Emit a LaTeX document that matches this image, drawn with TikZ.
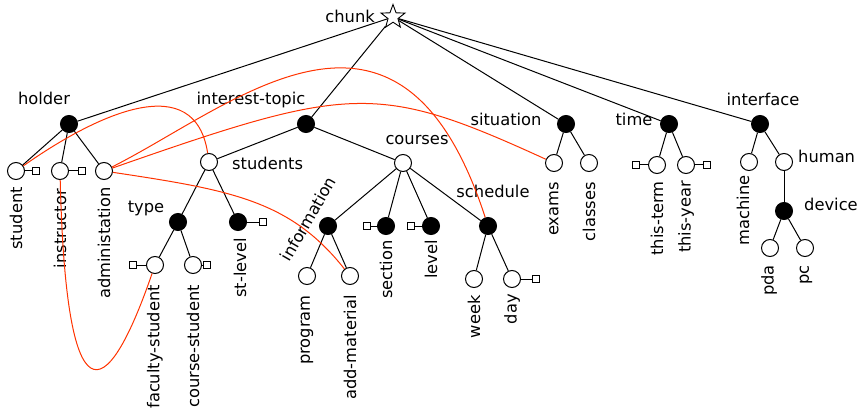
\documentclass[tikz,border=0pt]{standalone}
\usepackage{fontspec}
\setmainfont{DejaVu Sans}
\usepackage{tikz}
\usetikzlibrary{shapes.geometric}
\definecolor{linkred}{RGB}{255,51,0}

\begin{document}
\begin{tikzpicture}[x=1pt, y=-1pt,
  every node/.style={font=\fontsize{16.3}{19}\selectfont},
  open/.style={circle, draw, fill=white, minimum size=17pt, inner sep=0pt, line width=1pt},
  full/.style={circle, draw, fill=black, minimum size=17pt, inner sep=0pt, line width=1pt},
  attr/.style={rectangle, draw, fill=white, minimum size=7.5pt, inner sep=0pt, line width=0.9pt},
  lab/.style={inner sep=0pt, anchor=base},
  vlab/.style={inner sep=0pt, rotate=90, anchor=east},
  branch/.style={line width=1pt},
  link/.style={draw=linkred, line width=1pt}]
  \useasboundingbox (0,0) rectangle (861,414);

  % root
  \node[star, star points=5, star point ratio=2.4, draw, fill=white,
        minimum size=25pt, inner sep=0pt, line width=0.9pt] (chunk) at (393,17) {};
  \node[lab, anchor=base east] (chunk-lbl) at (375,23) {chunk};

  % holder
  \node[full] (holder) at (69,124) {};
  \node[lab] (holder-lbl) at (44,105) {holder};
  \node[open] (student) at (16,171) {};
  \node[open] (instructor) at (60,171) {};
  \node[open] (administation) at (104,171) {};
  \node[attr] (student-sq) at (36,171) {};
  \node[attr] (instructor-sq) at (82,171) {};
  \node[vlab] (student-lbl) at (16,187) {student};
  \node[vlab] (instructor-lbl) at (60,189) {instructor};
  \node[vlab] (administation-lbl) at (104,187) {administation};

  % interest-topic
  \node[full] (interest) at (306,124) {};
  \node[lab] (interest-lbl) at (251,105) {interest-topic};
  \node[open] (students) at (209,162) {};
  \node[lab, anchor=base west] (students-lbl) at (232,170) {students};
  \node[full] (type) at (178,222) {};
  \node[lab] (type-lbl) at (146,212) {type};
  \node[full] (stlevel) at (238,222) {};
  \node[attr] (stlevel-sq) at (263,222) {};
  \node[vlab] (stlevel-lbl) at (240,238) {st-level};
  \node[open] (faculty) at (155,265) {};
  \node[attr] (faculty-sq) at (133,265) {};
  \node[vlab] (faculty-lbl) at (155,285) {faculty-student};
  \node[open] (course) at (193,265) {};
  \node[attr] (course-sq) at (207,265) {};
  \node[vlab] (course-lbl) at (193,285) {course-student};

  \node[open] (courses) at (403,163) {};
  \node[lab] (courses-lbl) at (417,145) {courses};
  \node[full] (information) at (328,226) {};
  \node[inner sep=0pt, rotate=60] (information-lbl) at (308,219) {information};
  \node[open] (program) at (307,276) {};
  \node[vlab] (program-lbl) at (307,295) {program};
  \node[open] (addmaterial) at (350,276) {};
  \node[vlab] (addmaterial-lbl) at (350,295) {add-material};
  \node[full] (section) at (386,226) {};
  \node[attr] (section-sq) at (367,226) {};
  \node[vlab] (section-lbl) at (386,240) {section};
  \node[full] (level) at (431,226) {};
  \node[attr] (level-sq) at (411,226) {};
  \node[vlab] (level-lbl) at (431,240) {level};
  \node[full] (schedule) at (488,226) {};
  \node[lab] (schedule-lbl) at (493,197) {schedule};
  \node[open] (week) at (474,279) {};
  \node[vlab] (week-lbl) at (474,295) {week};
  \node[open] (day) at (512,279) {};
  \node[attr] (day-sq) at (536,279) {};
  \node[vlab] (day-lbl) at (512,294) {day};

  % situation
  \node[full] (situation) at (566,124) {};
  \node[lab] (situation-lbl) at (506,126) {situation};
  \node[open] (exams) at (554,163) {};
  \node[vlab] (exams-lbl) at (554,182) {exams};
  \node[open] (classes) at (589,163) {};
  \node[vlab] (classes-lbl) at (589,182) {classes};

  % time
  \node[full] (time) at (669,124) {};
  \node[lab] (time-lbl) at (634,126) {time};
  \node[open] (thisterm) at (657,165) {};
  \node[attr] (thisterm-sq) at (636,165) {};
  \node[vlab] (thisterm-lbl) at (657,181) {this-term};
  \node[open] (thisyear) at (686,165) {};
  \node[attr] (thisyear-sq) at (707,165) {};
  \node[vlab] (thisyear-lbl) at (686,181) {this-year};

  % interface
  \node[full] (interface) at (760,124) {};
  \node[lab] (interface-lbl) at (763,106) {interface};
  \node[open] (machine) at (749,162) {};
  \node[vlab] (machine-lbl) at (743,175) {machine};
  \node[open] (human) at (784,162) {};
  \node[lab, anchor=base west] (human-lbl) at (798,163) {human};
  \node[full] (device) at (784,211) {};
  \node[lab, anchor=base west] (device-lbl) at (804,210) {device};
  \node[open] (pda) at (770,248) {};
  \node[vlab] (pda-lbl) at (769,265) {pda};
  \node[open] (pc) at (805,248) {};
  \node[vlab] (pc-lbl) at (806,265) {pc};

  % tree
  \foreach \a/\b in {chunk/holder, chunk/interest, chunk/situation, chunk/time, chunk/interface,
      holder/student, holder/instructor, holder/administation,
      interest/students, interest/courses, students/type, students/stlevel,
      type/faculty, type/course, courses/information, courses/section,
      courses/level, courses/schedule, information/program, information/addmaterial,
      schedule/week, schedule/day, situation/exams, situation/classes,
      time/thisterm, time/thisyear, interface/machine, interface/human,
      human/device, device/pda, device/pc}
    \draw[branch] (\a) -- (\b);

  % attribute markers
  \foreach \a in {student, instructor, stlevel, faculty, course, section, level, day, thisterm, thisyear}
    \draw[branch] (\a) -- (\a-sq);

  % cross links
  \draw[link] (student) .. controls (100,112) and (195,70) .. (students);
  \draw[link] (administation) .. controls (235,105) and (400,-45) .. (schedule);
  \draw[link] (administation) .. controls (350,85) and (377,82) .. (exams);
  \draw[link] (administation) .. controls (230,190) and (290,200) .. (addmaterial);
  \draw[link] (instructor) .. controls (66,420) and (105,410) .. (faculty);
\end{tikzpicture}
\end{document}
